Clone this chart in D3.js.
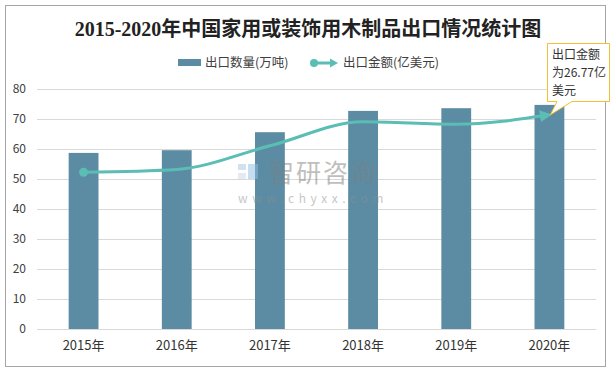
<!DOCTYPE html>
<html>
<head>
<meta charset="utf-8">
<script src="https://cdn.jsdelivr.net/npm/d3@7"></script>
<style>
  body { margin: 0; background: #fff; }
  svg text { font-family: "Noto Sans CJK SC", "Noto Sans", sans-serif; }
</style>
</head>
<body>
<div id="chart"></div>
<script>
// data
const years = ["2015年", "2016年", "2017年", "2018年", "2019年", "2020年"];
const quantity = [58.7, 59.6, 65.6, 72.7, 73.6, 74.7]; // 出口数量(万吨)
const amount = [19.6, 19.95, 22.9, 25.9, 25.6, 26.77]; // 出口金额(亿美元)
const yTicks = [0, 10, 20, 30, 40, 50, 60, 70, 80];

const W = 616, H = 372;
const plot = { left: 37, right: 596, top: 89, bottom: 329 };

const svg = d3.select("#chart").append("svg").attr("width", W).attr("height", H);

// frame
svg.append("rect")
  .attr("x", 5.5).attr("y", 5.5)
  .attr("width", 600).attr("height", 361)
  .attr("fill", "#fff").attr("stroke", "#a6a6a6");

// title
svg.append("text")
  .attr("x", 308).attr("y", 36)
  .attr("text-anchor", "middle")
  .attr("font-size", 20).attr("font-weight", "bold")
  .attr("fill", "#222")
  .style("font-family", "'Liberation Serif', 'Noto Sans CJK SC', serif")
  .text("2015-2020年中国家用或装饰用木制品出口情况统计图");

// scales
let x = d3.scaleBand().domain(years).range([plot.left, plot.right]).paddingInner(0.68).paddingOuter(0.34);
let y = d3.scaleLinear().domain([0, 80]).range([plot.bottom, plot.top]);
let y2 = d3.scaleLinear().domain([0, 30]).range([plot.bottom, plot.top]);

// grid
svg.append("g")
  .selectAll("line")
  .data(yTicks)
  .enter()
  .append("line")
  .attr("x1", plot.left).attr("x2", plot.right)
  .attr("y1", (d) => y(d) + 0.5).attr("y2", (d) => y(d) + 0.5)
  .attr("stroke", "#d9d9d9");

// y axis
let yAxis = d3.axisLeft(y).tickValues(yTicks).tickSize(0).tickPadding(11);
let gy = svg.append("g").attr("transform", `translate(${plot.left},0)`).call(yAxis);
gy.select(".domain").remove();
gy.selectAll("text").attr("font-size", 12).attr("fill", "#404040");

// x axis
let xAxis = d3.axisBottom(x).tickSize(0).tickPadding(12);
let gx = svg.append("g").attr("transform", `translate(0,${plot.bottom})`).call(xAxis);
gx.select(".domain").remove();
gx.selectAll("text").attr("font-size", 13).attr("fill", "#333");

// bars
svg.append("g")
  .selectAll("rect")
  .data(quantity)
  .enter()
  .append("rect")
  .attr("x", (d, i) => x(years[i]))
  .attr("width", x.bandwidth())
  .attr("y", (d) => y(d))
  .attr("height", (d) => y(0) - y(d))
  .attr("fill", "#5b8ca4");

// watermark
let wm = svg.append("g").attr("opacity", 0.5);
wm.append("rect").attr("x", 238).attr("y", 164).attr("width", 8).attr("height", 6).attr("fill", "#a9c3df");
wm.append("rect").attr("x", 238).attr("y", 173).attr("width", 8).attr("height", 6).attr("fill", "#c9d7e8");
wm.append("rect").attr("x", 248).attr("y", 164).attr("width", 10).attr("height", 15).attr("fill", "#8fbde6");
wm.append("text").attr("x", 269).attr("y", 182).attr("font-size", 25).attr("fill", "#7f7f7f")
  .attr("letter-spacing", 2).text("智研咨询");
wm.append("text").attr("x", 238).attr("y", 203).attr("font-size", 12).attr("fill", "#8f8f8f")
  .attr("letter-spacing", 4.6).text("www.chyxx.com");

// line
const lineColor = "#5bbdb4";
let defs = svg.append("defs");
defs.append("marker")
  .attr("id", "arrow")
  .attr("viewBox", "0 0 10 10")
  .attr("refX", 8).attr("refY", 5)
  .attr("markerWidth", 4).attr("markerHeight", 4)
  .attr("orient", "auto")
  .append("path").attr("d", "M0,0 L10,5 L0,10 Z").attr("fill", lineColor);

let line = d3.line()
  .x((d, i) => x(years[i]) + x.bandwidth() / 2)
  .y((d) => y2(d))
  .curve(d3.curveMonotoneX);

svg.append("path")
  .datum(amount)
  .attr("d", line)
  .attr("fill", "none")
  .attr("stroke", lineColor)
  .attr("stroke-width", 3)
  .attr("marker-end", "url(#arrow)");

svg.append("circle")
  .attr("cx", x(years[0]) + x.bandwidth() / 2)
  .attr("cy", y2(amount[0]))
  .attr("r", 4.5)
  .attr("fill", lineColor);

// legend
let lg = svg.append("g");
lg.append("rect").attr("x", 178).attr("y", 59).attr("width", 23).attr("height", 7).attr("fill", "#5b8ca4");
lg.append("text").attr("x", 205).attr("y", 67).attr("font-size", 12.5).attr("fill", "#404040").text("出口数量(万吨)");
lg.append("line").attr("x1", 314).attr("x2", 333).attr("y1", 63).attr("y2", 63)
  .attr("stroke", lineColor).attr("stroke-width", 3);
lg.append("path").attr("d", "M330,58.5 L338,63 L330,67.5 Z").attr("fill", lineColor);
lg.append("circle").attr("cx", 314).attr("cy", 63).attr("r", 4).attr("fill", lineColor);
lg.append("text").attr("x", 343).attr("y", 67).attr("font-size", 12.5).attr("fill", "#404040").text("出口金额(亿美元)");

// callout
let px = x(years[5]) + x.bandwidth() / 2, py = y2(amount[5]);
let co = svg.append("g");
co.append("path")
  .attr("d", `M547.5,43.5 L609.5,43.5 L609.5,101.5 L572,101.5 L${px + 1},${py} L557,101.5 L547.5,101.5 Z`)
  .attr("fill", "#fff").attr("stroke", "#f4c033").attr("stroke-width", 1);
["出口金额", "为26.77亿", "美元"].forEach((t, i) => {
  co.append("text").attr("x", 552).attr("y", 59 + i * 18).attr("font-size", 12).attr("fill", "#333").text(t);
});
</script>
</body>
</html>
